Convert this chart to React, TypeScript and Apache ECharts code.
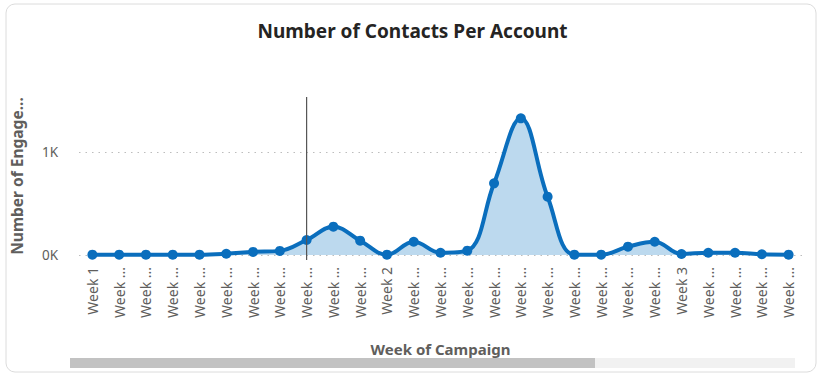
import React, { useEffect, useRef } from "react";
import * as echarts from "echarts";

const weekLabels = [
  "Week 1", "Week ...", "Week ...", "Week ...", "Week ...", "Week ...", "Week ...", "Week ...", "Week ...",
  "Week ...", "Week ...", "Week 2", "Week ...", "Week ...", "Week ...", "Week ...", "Week ...", "Week ...",
  "Week ...", "Week ...", "Week ...", "Week ...", "Week 3", "Week ...", "Week ...", "Week ...", "Week ...",
];
const engagements = [3, 3, 3, 3, 3, 12, 30, 40, 146, 275, 139, 3, 129, 22, 42, 696, 1327, 566, 3, 3, 81, 129, 10, 22, 22, 7, 3];
const yTicks = [0, 1000];
const highlightIndex = 8;

const FONT = "'Noto Sans', 'Open Sans', sans-serif";

export default function App() {
  const ref = useRef<HTMLDivElement>(null);
  useEffect(() => {
    if (!ref.current) return;
    const chart = echarts.init(ref.current, undefined, { renderer: "svg" });
    const baseGraphics: any[] = [
      {
        type: "rect",
        shape: { x: 6, y: 4, width: 810, height: 368, r: 9 },
        style: { fill: "none", stroke: "#dcdcdc", lineWidth: 1 },
        silent: true,
      },
      {
        type: "rect",
        shape: { x: 70, y: 358, width: 725, height: 10 },
        style: { fill: "#f1f1f1" },
        silent: true,
      },
      {
        type: "rect",
        shape: { x: 70, y: 358, width: 525, height: 10 },
        style: { fill: "#c2c2c2" },
        silent: true,
      },
    ];
    chart.setOption({
      animation: false,
      backgroundColor: "#ffffff",
      title: {
        text: "Number of Contacts Per Account",
        left: "center",
        top: 16,
        textStyle: { fontFamily: FONT, fontSize: 19, fontWeight: "bold", color: "#252423" },
      },
      grid: { left: 79, right: 23, top: 97, bottom: 122 },
      xAxis: {
        type: "category",
        data: weekLabels,
        boundaryGap: true,
        name: "Week of Campaign",
        nameLocation: "middle",
        nameGap: 86,
        nameTextStyle: { fontFamily: FONT, fontSize: 15, fontWeight: "bold", color: "#605E5C" },
        axisLine: { show: false },
        axisTick: { show: false },
        axisLabel: { rotate: 90, interval: 0, margin: 12, fontFamily: FONT, fontSize: 14, color: "#605E5C" },
      },
      yAxis: {
        type: "value",
        min: 0,
        max: 1534,
        interval: 1000,
        name: "Number of Engage...",
        nameLocation: "middle",
        nameGap: 54,
        nameTextStyle: { fontFamily: FONT, fontSize: 15.5, fontWeight: "bold", color: "#605E5C" },
        axisLine: { show: false },
        axisTick: { show: false },
        axisLabel: {
          margin: 21,
          showMaxLabel: false,
          fontFamily: FONT,
          fontSize: 13.5,
          color: "#605E5C",
          formatter: (v: number) => (yTicks.includes(v) ? `${v / 1000}K` : ""),
        },
        splitLine: { show: true, showMaxLine: false, lineStyle: { type: [1.5, 5], color: "#bdbdbd", width: 1 } },
      },
      series: [
        {
          type: "line",
          data: engagements,
          smooth: 0.4,
          symbol: "circle",
          symbolSize: 10,
          lineStyle: { color: "#0A6EBD", width: 4 },
          itemStyle: { color: "#0A6EBD" },
          areaStyle: { color: "#BCD9EE", opacity: 1 },
          z: 3,
        },
      ],
      graphic: baseGraphics,
    });
    const px = chart.convertToPixel({ xAxisIndex: 0 }, highlightIndex) as number;
    const yTop = chart.convertToPixel({ yAxisIndex: 0 }, 1534) as number;
    const yBot = chart.convertToPixel({ yAxisIndex: 0 }, -48) as number;
    chart.setOption({
      graphic: [
        ...baseGraphics,
        {
          type: "line",
          shape: { x1: px, y1: yTop, x2: px, y2: yBot },
          style: { stroke: "#555555", lineWidth: 1.2 },
          z: 10,
          silent: true,
        },
      ],
    });
    return () => chart.dispose();
  }, []);
  return (
    <div
      ref={ref}
      style={{ position: "fixed", left: 0, top: 0, width: 825, height: 377 }}
    />
  );
}
